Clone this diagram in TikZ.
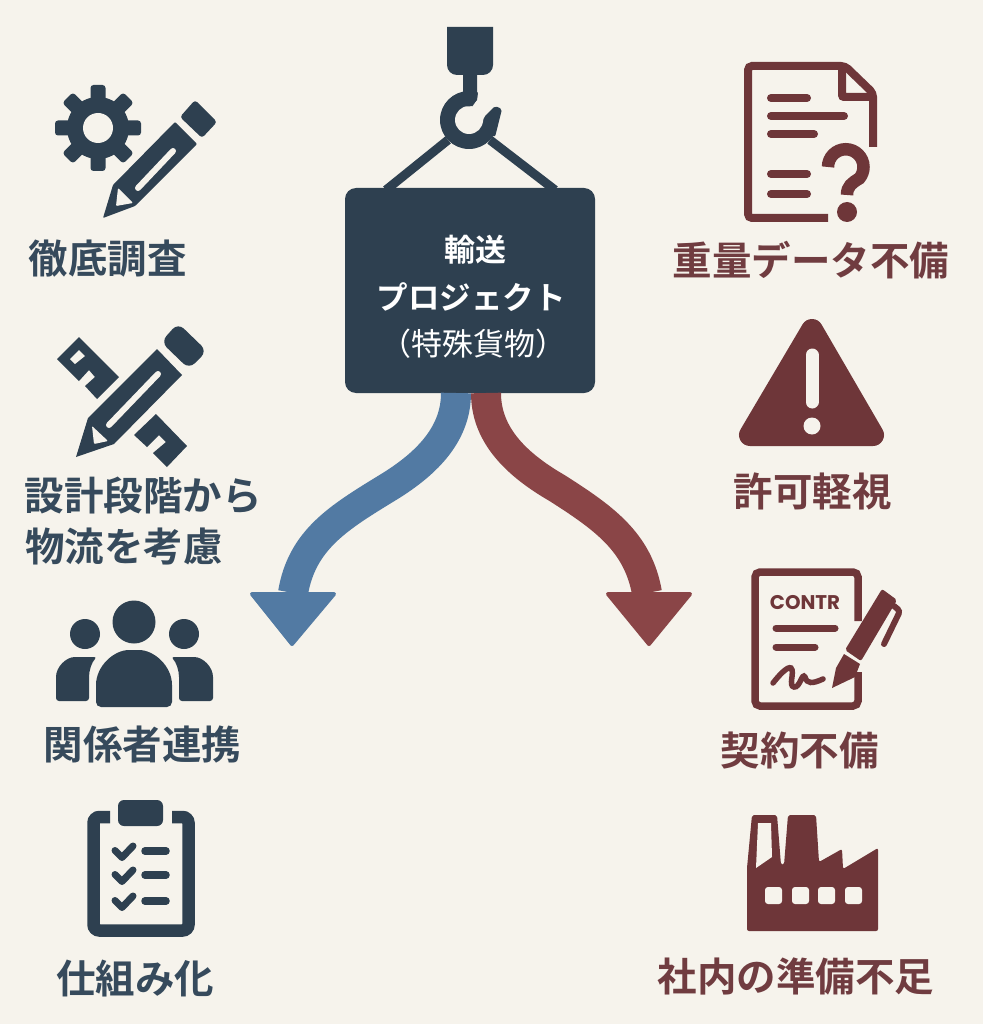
\documentclass[tikz,border=0pt]{standalone}
\usepackage{fontspec}
\setmainfont{Noto Sans CJK JP}[BoldFont={Noto Sans CJK JP Bold}]
\newfontfamily\contrfont{Poppins}[BoldFont={Poppins Bold}]
\definecolor{bgc}{HTML}{F6F3EC}
\definecolor{navy}{HTML}{2E4050}
\definecolor{navytxt}{HTML}{364A5C}
\definecolor{wine}{HTML}{6E3639}
\definecolor{winetxt}{HTML}{703C40}
\definecolor{bluearrow}{HTML}{527AA3}
\definecolor{redarrow}{HTML}{8A4547}
\tikzset{
  nv/.style={fill=navy,draw=none},
  wn/.style={fill=wine,draw=none},
  hole/.style={fill=bgc,draw=none},
  lblL/.style={font=\fontsize{39.5}{44}\selectfont\bfseries,text=navytxt,inner sep=0pt,anchor=center},
  lblR/.style={font=\fontsize{39.5}{44}\selectfont\bfseries,text=winetxt,inner sep=0pt,anchor=center},
  signbox/.style={fill=navy,rounded corners=11pt,minimum width=250pt,minimum height=205pt,inner sep=0pt},
  signtxt/.style={text=white,inner sep=0pt,anchor=center},
  flow/.style={line width=30pt,line cap=butt},
  tooth/.style={fill=navy,rounded corners=3pt}
}
\begin{document}
\begin{tikzpicture}[x=1pt,y=-1pt]
\useasboundingbox (0,0) rectangle (983,1024);
\fill[bgc] (0,0) rectangle (983,1024);

%% ropes
\coordinate (ropeLa) at (448,140);
\coordinate (ropeLb) at (386,190);
\coordinate (ropeRa) at (490,140);
\coordinate (ropeRb) at (555,190);
\draw[navy,line width=9pt] (ropeLa) -- (ropeLb);
\draw[navy,line width=9pt] (ropeRa) -- (ropeRb);

%% crane hook
\fill[navy] (447,27) -- (493,27) -- (493,65) arc (0:90:10) -- (457,75) arc (90:180:10) -- cycle;
\fill[navy] (469,120) circle (29);
\fill[hole] (472,107) -- (477,100) -- (480,80) -- (512,80) -- (512,100) -- (496,107) -- (484,118) -- (483,122) -- (469,120) -- cycle;
\fill[hole] (469,120) circle (14);
\fill[navy] (463,72) -- (477,72) -- (477,100) -- (470,106.5) -- (463,106) -- cycle;
\fill[navy,rounded corners=2pt] (483,122) -- (484,117) -- (495,106) -- (502,109) -- (495,137) -- (485,132) -- cycle;

%% sign
\node[signbox] (sign) at (470,290.5) {};
\node[signtxt,font=\fontsize{31}{35}\selectfont\bfseries] (t1) at (475,250) {輸送};
\node[signtxt,font=\fontsize{31.5}{36}\selectfont\bfseries] (t2) at (471,297) {プロジェクト};
\node[signtxt,font=\fontsize{31}{36}\selectfont] (t3) at (473,344) {（特殊貨物）};

%% flow arrows
\coordinate (bs) at (456,393);
\coordinate (bm) at (387,488);
\coordinate (be) at (293,593);
\coordinate (rs) at (486,393);
\coordinate (rm) at (557,488);
\coordinate (re) at (647,593);
\draw[bluearrow,flow] (bs) .. controls (456,432) and (430,462) .. (bm) .. controls (338,518) and (302,540) .. (be);
\draw[redarrow,flow] (rs) .. controls (486,432) and (512,462) .. (rm) .. controls (604,518) and (638,542) .. (re);
\fill[bluearrow,draw=bluearrow,line width=4pt,line join=round] (252,594) -- (334,594) -- (292,644) -- cycle;
\fill[redarrow,draw=redarrow,line width=4pt,line join=round] (608,594) -- (690,594) -- (649,644) -- cycle;

%% gear + pencil
\begin{scope}[shift={(98,128)}]
  \foreach \a in {0,45,...,315}{
    \fill[tooth,rotate=\a] (-7.5,-25) rectangle (7.5,-43);
  }
  \fill[navy] (0,0) circle (31);
  \fill[hole] (0,0) circle (15);
\end{scope}
\fill[nv,rounded corners=0.8pt] (103,218) -- (113,185) -- (175,122) -- (197,144) -- (135,206) -- cycle;
\fill[nv,rounded corners=3pt] (195,100) -- (217,122) -- (202,138) -- (180,117) -- cycle;
\draw[bgc,line width=6pt,line cap=round] (173,151) -- (138,188);
\fill[hole,rounded corners=1pt] (118,188) -- (133,203) -- (116,206) -- cycle;

%% pencil + ruler
\fill[nv] (57,359) -- (79,337) -- (119,377) -- (97,399) -- (85,386) -- (95,377) -- (89,370) -- (79,381) -- cycle;
\fill[hole] (70,359) -- (79,350) -- (85,356) -- (75,364) -- cycle;
\fill[nv] (156,414) -- (187,446) -- (167,467) -- (153,453) -- (166,442) -- (159,435) -- (147,447) -- (134,435) -- cycle;
\fill[nv] (76,457) -- (88,418) -- (157,349) -- (182,375) -- (114,444) -- cycle;
\fill[nv,rounded corners=8pt] (178,323) -- (207,351) -- (189,369) -- (161,342) -- cycle;
\draw[bgc,line width=6pt,line cap=round] (158,374) -- (109,425);
\fill[hole,rounded corners=1pt] (92,426) -- (108,441) -- (94,444) -- cycle;

%% people
\fill[nv] (134,622) circle (21.5);
\fill[nv] (85,634) circle (15);
\fill[nv] (184,634) circle (15);
\fill[nv,rounded corners=5pt] (96,690) .. controls (96,666) and (114,650) .. (134,650) .. controls (154,650) and (172,666) .. (172,690) -- (172,707) -- (96,707) -- cycle;
\fill[nv,rounded corners=3pt] (56,701) -- (56,680) .. controls (56,667) and (66,657) .. (78,657) -- (97,657) .. controls (92,662) and (89,670) .. (89,680) -- (89,701) -- cycle;
\fill[nv,rounded corners=3pt] (213,701) -- (213,680) .. controls (213,667) and (203,657) .. (191,657) -- (171,657) .. controls (176,662) and (179,670) .. (179,680) -- (179,701) -- cycle;

%% clipboard
\draw[navy,line width=12.5pt,rounded corners=6pt] (110,817) -- (93.5,817) -- (93.5,930.5) -- (188.5,930.5) -- (188.5,817) -- (172,817);
\fill[nv,rounded corners=6pt] (118,800) rectangle (163,826);
\foreach \d in {0,24,50}{
  \draw[navy,line width=7pt,line cap=round,line join=round] (115,850.5+\d) -- (122,857.5+\d) -- (133,846+\d);
  \draw[navy,line width=7.5pt,line cap=round] (145,851+\d) -- (166,851+\d);
}

%% document with question mark
\draw[wine,line width=8pt,rounded corners=4pt] (828,218) -- (748,218) -- (748,66) -- (845,66) -- (873,93) -- (873,147);
\draw[wine,line width=8pt,rounded corners=2pt] (842,66) -- (842,97) -- (873,97);
\foreach \ya/\xb in {98/811,116/848,134/818,174/811,194/811}{
  \draw[wine,line width=8pt,line cap=round] (771,\ya) -- (\xb-4,\ya);
}
\draw[wine,line width=12.5pt] (828,167) arc (180:400:17.75) .. controls (852,183) and (847,186) .. (847,195);
\fill[wn] (847,212) circle (10);

%% warning
\fill[wine,draw=wine,line width=22pt,line join=round] (812,330) -- (873,435) -- (750,435) -- cycle;
\draw[bgc,line width=13pt,line cap=round] (812,355) -- (812,402);
\fill[hole] (812,426) circle (8.5);

%% contract
\draw[wine,line width=7.5pt,rounded corners=5pt] (858,621) -- (858,572) -- (755,572) -- (755,706) -- (858,706) -- (858,672);
\node[inner sep=0pt,text=wine,font=\contrfont\bfseries\fontsize{19.8}{22}\selectfont] (contr) at (805,603) {CONTR};
\draw[wine,line width=7pt,line cap=round] (776,628) -- (835,628);
\draw[wine,line width=7pt,line cap=round] (776,647) -- (815,647);
\draw[wine,line width=5.5pt,line cap=round] (773,683) .. controls (780,674) and (788,666) .. (791,668) .. controls (795,672) and (788,686) .. (794,687) .. controls (800,688) and (802,672) .. (805,677) .. controls (807,684) and (812,684) .. (823,679);
\fill[wn,rounded corners=2pt] (845,650) -- (882,589) -- (897,600) -- (861,661) -- cycle;
\fill[wn] (832,688) -- (836,668) -- (844,654) -- (860,664) -- (855,677) -- cycle;
\draw[wine,line width=6pt,line cap=round,rounded corners=3pt] (894,606) -- (900,611) -- (884,644);

%% factory
\fill[wn,rounded corners=2pt] (747,931) -- (747,868) -- (752,815) -- (777,815) -- (781,865) -- (784,865) -- (788,815) -- (816,815) -- (819,862) -- (842,849) -- (843,869) -- (878,848) -- (878,931) -- cycle;
\fill[hole] (758,823) -- (771,823) -- (772,857) -- (756,868) -- cycle;
\foreach \xa in {765,792,818,845}{
  \fill[hole,rounded corners=3pt] (\xa,887) rectangle (\xa+17,904);
}

%% labels
\node[lblL] (l1) at (107.5,259) {徹底調査};
\node[lblL] (l2a) at (143,496) {設計段階から};
\node[lblL] (l2b) at (124,547) {物流を考慮};
\node[lblL] (l3) at (142.5,745) {関係者連携};
\node[lblL] (l4) at (135,978) {仕組み化};
\node[lblR] (r1) at (811,260) {重量データ不備};
\node[lblR] (r2) at (812.5,491) {許可軽視};
\node[lblR] (r3) at (799.5,751) {契約不備};
\node[lblR] (r4) at (796,976) {社内の準備不足};
\end{tikzpicture}
\end{document}
